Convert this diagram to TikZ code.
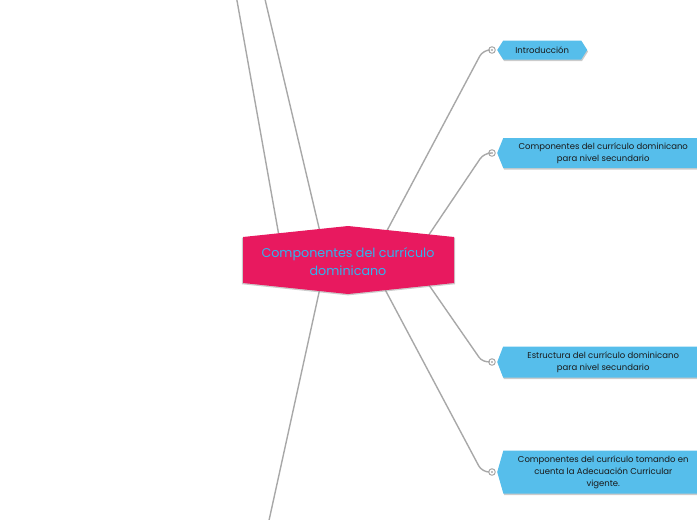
\documentclass[tikz,border=0pt]{standalone}
\usepackage{fontspec}
\setmainfont{Poppins}
\usetikzlibrary{shapes.symbols,shadows}
\definecolor{hubred}{RGB}{232,25,95}
\definecolor{hubtext}{RGB}{48,180,240}
\definecolor{boxblue}{RGB}{86,190,235}
\definecolor{linegray}{RGB}{168,168,168}

\begin{document}
\begin{tikzpicture}[x=1pt,y=-1pt,
  link/.style={draw=linegray,line width=1.4pt,rounded corners=7pt},
  topic/.style={signal,signal to=west and east,fill=boxblue,anchor=west,
    font=\fontsize{8.5}{12}\selectfont,text=black!90,align=center,inner sep=1pt,
    drop shadow={shadow xshift=0.8pt,shadow yshift=-1.6pt,opacity=.45,fill=black!45}},
  wide/.style={topic,signal to=west,minimum width=206pt},
  dot/.style={circle,draw=linegray,fill=white,line width=1pt,inner sep=0pt,minimum size=6.5pt,
    path picture={\fill[linegray] (path picture bounding box.center) circle (1.2pt);}}]

\useasboundingbox (0,0) rectangle (697,520);
\clip (0,0) rectangle (697,520);

\coordinate (a1) at (279,236);
\coordinate (a2) at (320,232);
\coordinate (a3) at (320,288);
\coordinate (u1) at (236,-5);
\coordinate (u2) at (264,-5);
\coordinate (u3) at (268,525);

\coordinate (h1) at (382,240);
\coordinate (h2) at (422,245);
\coordinate (h3) at (422,275);
\coordinate (h4) at (380,280);
\coordinate (k1) at (483,50);
\coordinate (k2) at (484,153);
\coordinate (k3) at (483,363);
\coordinate (k4) at (482,472);

\node[topic,minimum height=19pt,minimum width=90pt,signal pointer angle=115] (1) at (497,50) {Introducción};
\node[wide,minimum height=30pt,signal pointer angle=136] (2) at (497,153)
  {Componentes del currículo dominicano\\para nivel secundario};
\node[wide,minimum height=31pt,signal pointer angle=138] (3) at (497,362)
  {Estructura del currículo dominicano\\para nivel secundario};
\node[wide,minimum height=43pt,signal pointer angle=148] (4) at (497,472)
  {Componentes del currículo tomando en\\cuenta la Adecuación Curricular\\vigente.};

\node[dot] (d1) at (492,50) {};
\node[dot] (d2) at (492,153) {};
\node[dot] (d3) at (492,362) {};
\node[dot] (d4) at (492,472) {};

\draw[link] (a1) -- (u1);
\draw[link] (a2) -- (u2);
\draw[link] (a3) -- (u3);
\draw[link] (h1) -- (k1) -- (d1.west);
\draw[link] (h2) -- (k2) -- (d2.west);
\draw[link] (h3) -- (k3) -- (d3.west);
\draw[link] (h4) -- (k4) -- (d4.west);

\fill[hubred,drop shadow={shadow xshift=0pt,shadow yshift=-1pt,shadow scale=1.01,opacity=.5,fill=black!40}]
  (243,237) -- (348,226) -- (454,237) -- (454,283) -- (348,294) -- (243,283) -- cycle;
\node[text=hubtext,align=center,font=\fontsize{12.7}{18}\selectfont] (0) at (348,262)
  {Componentes del currículo\\dominicano};

\end{tikzpicture}
\end{document}
